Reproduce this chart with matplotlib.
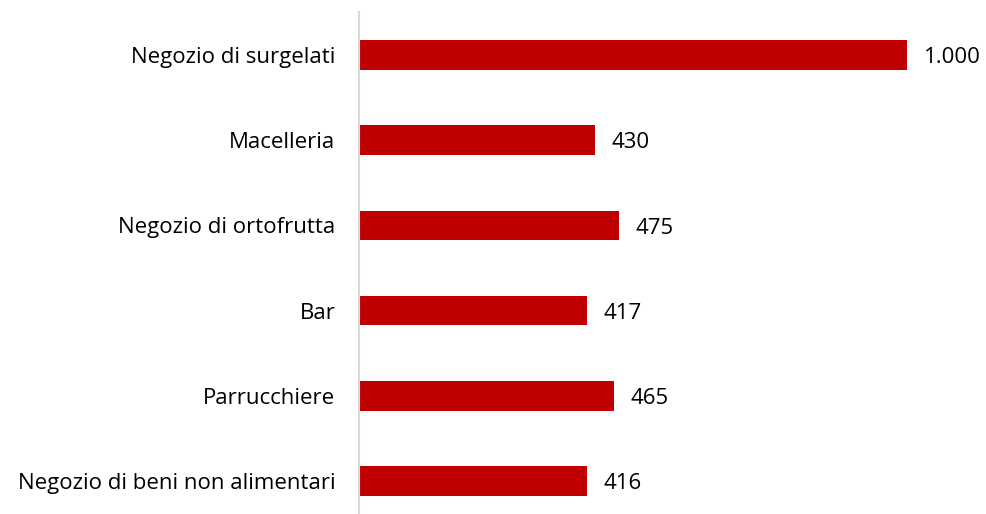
import matplotlib
matplotlib.use("Agg")
from matplotlib import pyplot as plt

categories = ['Negozio di surgelati', 'Macelleria', 'Negozio di ortofrutta',
              'Bar', 'Parrucchiere', 'Negozio di beni non alimentari']
values = [1000, 430, 475, 417, 465, 416]
value_labels = ['1.000', '430', '475', '417', '465', '416']

plt.rcParams['font.family'] = ['Open Sans', 'DejaVu Sans']

fig = plt.figure(figsize=(9.86, 5.14), dpi=100)
ax = fig.add_axes([0.364, 0.0, 0.636, 0.977])

pos = list(range(len(categories)))
ax.barh(pos, values, height=0.35, color='#C00000')

for p, v, t in zip(pos, values, value_labels):
    ax.text(v + 30, p + 0.03, t, va='center', ha='left', fontsize=16, color='#000000')

ax.set_xlim(0, 1144)
ax.set_ylim(5.39, -0.51)
ax.set_yticks(pos)
ax.set_yticklabels(categories, fontsize=16)
ax.tick_params(axis='y', length=0, pad=17)
ax.set_xticks([])
for s in ['top', 'right', 'bottom']:
    ax.spines[s].set_visible(False)
ax.spines['left'].set_color('#D9D9D9')
ax.spines['left'].set_linewidth(1.5)

fig.savefig('out.png', dpi=100)
